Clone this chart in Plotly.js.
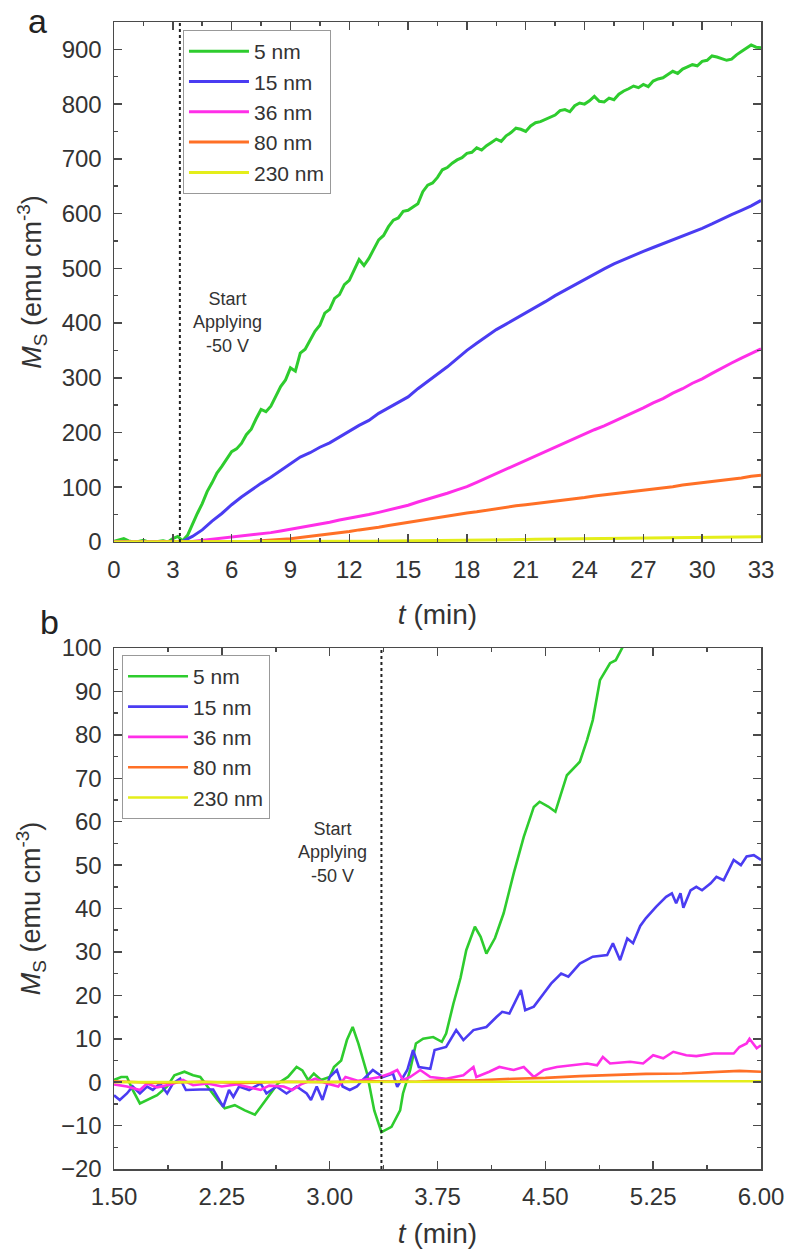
<!DOCTYPE html>
<html>
<head>
<meta charset="utf-8">
<script src="https://cdn.plot.ly/plotly-3.0.1.min.js"></script>
<style>html,body{margin:0;padding:0;background:#fff;}#chart{width:788px;height:1253px;}</style>
</head>
<body>
<div id="chart"></div>
<script>
// ---------- data ----------
const seriesNames = ["5 nm", "15 nm", "36 nm", "80 nm", "230 nm"];
const seriesColors = ["#2ecc2e", "#4a3cf2", "#ff2ee8", "#ff7026", "#e4ee1a"];

// Panel a: time (min)
const tA = [0,0.5,1,1.5,2,2.5,3,3.5,4,4.5,5,5.5,6,6.5,7,7.5,8,8.5,9,9.5,10,10.5,11,11.5,12,12.5,13,13.5,14,14.5,15,15.5,16,16.5,17,17.5,18,18.5,19,19.5,20,20.5,21,21.5,22,22.5,23,23.5,24,24.5,25,25.5,26,26.5,27,27.5,28,28.5,29,29.5,30,30.5,31,31.5,32,32.5,33];
// finer time grid for the noisy 5 nm curve
const tA_5nm = [0,0.25,0.5,0.75,1,1.25,1.5,1.75,2,2.25,2.5,2.75,3,3.25,3.5,3.75,4,4.25,4.5,4.75,5,5.25,5.5,5.75,6,6.25,6.5,6.75,7,7.25,7.5,7.75,8,8.25,8.5,8.75,9,9.25,9.5,9.75,10,10.25,10.5,10.75,11,11.25,11.5,11.75,12,12.25,12.5,12.75,13,13.25,13.5,13.75,14,14.25,14.5,14.75,15,15.25,15.5,15.75,16,16.25,16.5,16.75,17,17.25,17.5,17.75,18,18.25,18.5,18.75,19,19.25,19.5,19.75,20,20.25,20.5,20.75,21,21.25,21.5,21.75,22,22.25,22.5,22.75,23,23.25,23.5,23.75,24,24.25,24.5,24.75,25,25.25,25.5,25.75,26,26.25,26.5,26.75,27,27.25,27.5,27.75,28,28.25,28.5,28.75,29,29.25,29.5,29.75,30,30.25,30.5,30.75,31,31.25,31.5,31.75,32,32.25,32.5,32.75,33];

const msA_5nm = [1,3,6,2,0,1,3,0,-1,1,2,0,6,10,2,12,33,52,70,92,108,126,138,152,165,170,180,196,206,225,242,238,248,266,284,296,318,312,345,352,368,385,396,418,425,445,452,470,478,498,516,505,518,535,552,560,576,588,592,604,606,612,618,640,652,656,666,680,684,692,698,702,710,712,720,716,724,730,736,732,742,748,756,754,750,760,766,768,772,776,780,788,790,786,797,802,800,806,814,805,804,811,808,818,824,828,833,830,836,832,842,846,848,854,860,856,864,868,872,870,878,880,888,886,883,880,882,890,896,902,908,904,903];
const msA_15nm = [0,1,-1,0,1,0,-1,1,10,22,38,52,68,82,95,107,118,130,142,155,163,173,181,192,203,213,222,235,245,255,265,280,293,307,320,335,350,363,375,388,398,408,418,428,439,450,460,470,479,490,499,508,516,524,531,538,545,551,558,566,573,581,590,598,606,614,624];
const msA_36nm = [0,0,-1,0,0,1,0,0,1,3,5,6,8,10,13,15,17,20,23,26,29,32,36,40,43,46,50,54,58,62,67,73,78,84,89,95,101,109,117,126,134,142,150,158,165,173,181,189,197,205,212,220,228,237,245,254,262,272,280,290,298,308,318,327,336,345,353];
const msA_80nm = [0,0,0,0,0,0,0,0,0,0,0,0,0,0.5,1,2,3,4,6,8,10,12,15,17,19,22,24,27,30,33,36,39,42,45,47,50,53,55,58,61,63,66,68,70,72,75,77,79,81,84,86,88,90,93,95,97,99,101,104,106,108,111,113,115,117,120,122];
const msA_230nm = [0,0,0,0,0,0,0,0,0,0,0,0,0,0,0,0,0,0,0,0,0.3,0.5,0.6,0.9,1,1.2,1.4,1.5,1.8,2,2.2,2.3,2.6,2.8,3,3.1,3.3,3.5,3.6,3.9,4.1,4.3,4.4,4.7,4.9,5.1,5.2,5.5,5.7,5.9,6,6.3,6.5,6.6,6.9,7.1,7.3,7.4,7.7,7.9,8.1,8.2,8.5,8.7,8.9,9.1,9.3];

// Panel b (zoom 1.5 - 6 min)
const tB_5nm = [1.50,1.55,1.59,1.63,1.68,1.73,1.80,1.87,1.92,1.99,2.05,2.10,2.15,2.22,2.27,2.34,2.41,2.48,2.52,2.57,2.64,2.71,2.77,2.81,2.85,2.89,2.94,3.00,3.03,3.08,3.12,3.16,3.20,3.26,3.31,3.36,3.43,3.49,3.51,3.56,3.60,3.65,3.72,3.78,3.81,3.86,3.91,3.95,4.01,4.05,4.09,4.15,4.21,4.28,4.35,4.42,4.46,4.52,4.57,4.65,4.74,4.79,4.83,4.88,4.95,4.99,5.05];
const msB_5nm = [0.5,1.2,1.2,-1.8,-4.9,-4.1,-3,-1,1.6,2.4,1.6,1.2,-1.1,-4.1,-6,-5.3,-6.5,-7.5,-5.7,-3.4,-0.3,1.2,3.5,2.7,0.5,2,0.5,1.2,3.5,5,9.7,12.7,8.9,2,-6.5,-11.5,-10.3,-6.5,-2.6,2.8,8.9,10,10.4,9.3,11.2,18,24,30.4,35.8,33.5,29.6,33.2,38.9,48.1,56.5,63.4,64.6,63.5,62.3,70.7,73.8,78.8,83.4,92.6,96.5,97.2,101];

const tB_15nm = [1.50,1.54,1.59,1.63,1.68,1.73,1.77,1.82,1.87,1.91,1.96,2.00,2.10,2.19,2.26,2.30,2.33,2.37,2.44,2.52,2.56,2.63,2.70,2.77,2.84,2.87,2.91,2.95,3.00,3.05,3.09,3.14,3.19,3.23,3.30,3.37,3.44,3.47,3.54,3.58,3.62,3.70,3.73,3.81,3.88,3.93,4.00,4.09,4.16,4.20,4.25,4.33,4.36,4.42,4.49,4.54,4.61,4.66,4.74,4.83,4.93,4.97,5.02,5.07,5.11,5.16,5.20,5.27,5.34,5.38,5.41,5.44,5.46,5.51,5.55,5.59,5.65,5.69,5.74,5.81,5.86,5.90,5.95,6.00];
const msB_15nm = [-3,-4.1,-2.6,-1,-2.6,-1,-1.8,-0.3,-2.6,-0.3,0.8,-1.8,-1.7,-1.7,-5.7,-1.8,-3.4,-1,-1.8,-0.3,-2.6,-1,-2.6,-1,-2.6,-4.1,-1,-4.1,1.2,2.8,-1,-1.8,-1,0.5,2.8,1.2,2,-1.1,2.8,7.4,3.5,3.1,7.4,8.1,12,9.7,12,12.7,15,16.2,15.8,21.2,16.6,17.4,20.5,22.7,25,24.3,27.3,28.9,29.3,32,28.1,33.1,32,36,37.8,40.4,42.7,43.5,41.2,43.5,40.2,44.2,45,44.2,45.8,47.3,46.5,51.2,50,52,52.3,51.2];

const tB_36nm = [1.50,1.59,1.68,1.73,1.80,1.90,1.98,2.05,2.15,2.25,2.35,2.45,2.52,2.58,2.68,2.74,2.80,2.90,2.98,3.06,3.11,3.20,3.30,3.35,3.42,3.47,3.51,3.56,3.63,3.70,3.81,3.93,4.00,4.02,4.11,4.18,4.28,4.35,4.42,4.49,4.58,4.67,4.79,4.86,4.90,4.95,5.09,5.18,5.25,5.32,5.39,5.48,5.55,5.67,5.81,5.85,5.90,5.92,5.97,6.00];
const msB_36nm = [-0.5,-1,-1.8,-0.3,-1.2,-0.5,0.5,-0.7,-0.3,-1,-0.5,-1.2,-1.8,-0.8,-1,-1.8,-0.5,0.8,-0.3,-1,1.2,0.3,0.8,1.2,2,2.8,0.5,1.2,2.8,1.2,0.8,1.6,3.5,1.2,2.4,3.5,2.8,3.5,1.2,2.8,3.5,3.9,4.3,3.9,5.8,4.3,4.7,4.3,6.2,5.5,7,6.2,6,6.6,6.6,8.1,8.9,10,7.8,8.5];

const tB_80nm = [1.50,1.80,2.10,2.40,2.70,3.00,3.30,3.60,3.81,4.00,4.28,4.50,4.74,5.00,5.20,5.45,5.67,5.85,6.00];
const msB_80nm = [0.2,-0.2,0.1,-0.2,0.1,0,0.2,0.1,0.5,0.4,0.8,1.0,1.4,1.7,1.9,2.0,2.3,2.6,2.4];

const tB_230nm = [1.50,2.50,3.50,4.50,5.50,6.00];
const msB_230nm = [0,0,0,0.1,0.2,0.2];

const vLineA = 3.36;   // start applying -50 V
const vLineB = 3.36;
const noteText = "Start<br>Applying<br>-50 V";

// ---------- traces ----------
const panelAt = [tA_5nm, tA, tA, tA, tA];
const panelAy = [msA_5nm, msA_15nm, msA_36nm, msA_80nm, msA_230nm];
const panelBt = [tB_5nm, tB_15nm, tB_36nm, tB_80nm, tB_230nm];
const panelBy = [msB_5nm, msB_15nm, msB_36nm, msB_80nm, msB_230nm];

const traces = [];
panelAy.forEach((ys, i) => traces.push({
  x: panelAt[i], y: ys, type: "scatter", mode: "lines", name: seriesNames[i],
  line: {color: seriesColors[i], width: 3}, xaxis: "x", yaxis: "y", legend: "legend"
}));
panelBy.forEach((ys, i) => traces.push({
  x: panelBt[i], y: ys, type: "scatter", mode: "lines", name: seriesNames[i],
  line: {color: seriesColors[i], width: 2.6}, xaxis: "x2", yaxis: "y2", legend: "legend2"
}));

const FONT = "Liberation Sans, Arial, sans-serif";
const axisCommon = {
  showline: true, mirror: "allticks", linecolor: "#4a4a4a", linewidth: 1.5,
  ticks: "inside", ticklen: 8, tickwidth: 1.5, tickcolor: "#4a4a4a",
  showgrid: false, zeroline: false,
  tickfont: {family: FONT, size: 24, color: "#333"},
  ticklabelstandoff: 6
};
const titleFontX = {family: FONT, size: 28, color: "#333"};
const yTitle = {text: "<i>M</i><sub>S</sub> (emu cm<sup>-3</sup>)", font: {family: FONT, size: 27, color: "#333"}, standoff: 12};
const legendCommon = {
  bgcolor: "#fff", bordercolor: "#999", borderwidth: 1,
  font: {family: FONT, size: 21, color: "#333"},
  itemwidth: 60, xanchor: "left", yanchor: "top", tracegroupgap: 0
};

const layout = {
  width: 788, height: 1253,
  margin: {l: 114, r: 27, t: 22, b: 84},
  paper_bgcolor: "#fff", plot_bgcolor: "#fff",
  font: {family: FONT, color: "#333"},
  showlegend: true,
  xaxis: Object.assign({}, axisCommon, {
    domain: [0, 1], anchor: "y", range: [0, 33], tickmode: "linear", tick0: 0, dtick: 3,
    minor: {ticks: "inside", ticklen: 4, tickcolor: "#4a4a4a", dtick: 1.5, tick0: 0},
    title: {text: "<i>t</i> (min)", font: titleFontX, standoff: 22}
  }),
  yaxis: Object.assign({}, axisCommon, {
    domain: [0.5467, 1], anchor: "x", range: [0, 950], tickmode: "linear", tick0: 0, dtick: 100,
    minor: {ticks: "inside", ticklen: 4, tickcolor: "#4a4a4a", dtick: 50, tick0: 0},
    title: yTitle
  }),
  xaxis2: Object.assign({}, axisCommon, {
    domain: [0, 1], anchor: "y2", range: [1.5, 6.0], tickmode: "linear", tick0: 1.5, dtick: 0.75,
    tickformat: ".2f",
    minor: {ticks: "inside", ticklen: 4, tickcolor: "#4a4a4a", dtick: 0.375, tick0: 1.5},
    title: {text: "<i>t</i> (min)", font: titleFontX, standoff: 14}
  }),
  yaxis2: Object.assign({}, axisCommon, {
    domain: [0, 0.4542], anchor: "x2", range: [-20, 100], tickmode: "linear", tick0: -20, dtick: 10,
    minor: {ticks: "inside", ticklen: 4, tickcolor: "#4a4a4a", dtick: 5, tick0: 0},
    title: yTitle
  }),
  legend: Object.assign({}, legendCommon, {x: 0.1066, y: 0.993}),
  legend2: Object.assign({}, legendCommon, {x: 0.0124, y: 0.448}),
  shapes: [
    {type: "line", xref: "x", yref: "y domain", x0: vLineA, x1: vLineA, y0: 0, y1: 1,
     line: {color: "#222", width: 2, dash: "dot"}},
    {type: "line", xref: "x2", yref: "y2 domain", x0: vLineB, x1: vLineB, y0: 0, y1: 1,
     line: {color: "#222", width: 2, dash: "dot"}}
  ],
  annotations: [
    {xref: "x", yref: "y", x: 5.77, y: 401, text: noteText, showarrow: false,
     font: {family: FONT, size: 18, color: "#333"}, align: "center"},
    {xref: "x2", yref: "y2", x: 3.02, y: 52.8, text: noteText, showarrow: false,
     font: {family: FONT, size: 18, color: "#333"}, align: "center"},
    {xref: "paper", yref: "paper", x: -0.1175, y: 1.019, text: "a", showarrow: false,
     xanchor: "center", yanchor: "top", font: {family: FONT, size: 34, color: "#222"}},
    {xref: "paper", yref: "paper", x: -0.099, y: 0.477, text: "b", showarrow: false,
     xanchor: "center", yanchor: "middle", font: {family: FONT, size: 34, color: "#222"}}
  ]
};

Plotly.newPlot("chart", traces, layout, {displayModeBar: false, staticPlot: true});
</script>
</body>
</html>
